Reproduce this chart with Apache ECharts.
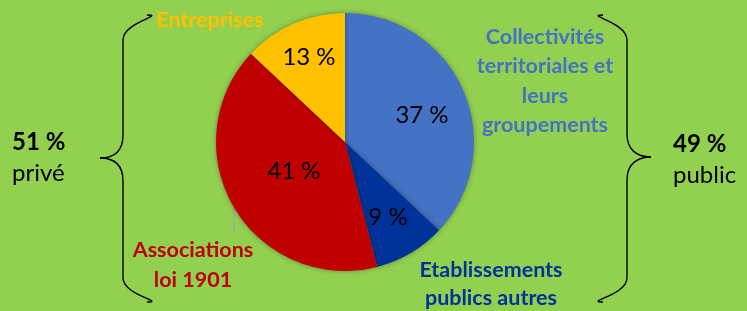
<!DOCTYPE html>
<html>
<head>
<meta charset="utf-8">
<script src="https://cdn.jsdelivr.net/npm/echarts@6/dist/echarts.min.js"></script>
<style>
  html, body { margin: 0; padding: 0; background: #92D050; }
  #main { width: 747px; height: 311px; }
</style>
</head>
<body>
<div id="main"></div>
<script>
// données
const categories = ['Collectivités\nterritoriales et\nleurs\ngroupements', 'Etablissements\npublics autres', 'Associations\nloi 1901', 'Entreprises']
const values = [37, 9, 41, 13]
const colors = ['#4472C4', '#003399', '#C00000', '#FFC000']
const groupLabels = ['51 %', 'privé', '49 %', 'public']

// positions des étiquettes (comme dans l'original)
const pctPos = [[422, 115], [388, 217], [294, 171], [309, 57]]
const namePos = [[545, 81], [491, 284], [193, 265], [210, 20]]
const nameLineHeight = [29.5, 28, 30, 28]

const font = 'Lato, "Open Sans", sans-serif'
const chart = echarts.init(document.getElementById('main'))

// accolade : xe = bout des branches, xm = barre, xt = pointe
function brace(xe, xm, xt, yTop, yTip, yBot) {
  const s = xt > xm ? 1 : -1
  const st = { fill: 'none', stroke: '#000', lineWidth: 1.4 }
  const curve = (x1, y1, cx1, cy1, cx2, cy2, x2, y2) => ({
    type: 'bezierCurve',
    shape: { x1, y1, cpx1: cx1, cpy1: cy1, cpx2: cx2, cpy2: cy2, x2, y2 },
    style: st
  })
  const line = (x1, y1, x2, y2) => ({ type: 'line', shape: { x1, y1, x2, y2 }, style: st })
  return [
    curve(xe, yTop, xe - s * 19, yTop, xm, yTop + 7, xm, yTop + 25),
    line(xm, yTop + 25, xm, yTip - 23),
    curve(xm, yTip - 23, xm, yTip - 8, xt - s * 15, yTip, xt, yTip),
    curve(xt, yTip, xt - s * 15, yTip, xm, yTip + 8, xm, yTip + 23),
    line(xm, yTip + 23, xm, yBot - 24),
    curve(xm, yBot - 24, xm, yBot - 7, xe - s * 19, yBot, xe, yBot)
  ]
}

const seriesData = values.map((v, i) => ({ name: categories[i], value: v, itemStyle: { color: colors[i] } }))

chart.setOption({
  backgroundColor: '#92D050',
  animation: false,
  series: [
    {
      type: 'pie',
      center: [345, 142],
      radius: 129,
      startAngle: 90,
      data: seriesData,
      itemStyle: { shadowBlur: 5, shadowColor: 'rgba(0,0,0,0.35)' },
      label: {
        show: true,
        position: 'inside',
        formatter: '{c} %',
        color: '#000',
        fontFamily: font,
        fontSize: 24
      },
      labelLine: { show: false },
      labelLayout: (p) => ({ x: pctPos[p.dataIndex][0], y: pctPos[p.dataIndex][1], align: 'center', verticalAlign: 'middle' })
    },
    {
      type: 'pie',
      silent: true,
      center: [345, 142],
      radius: 129,
      startAngle: 90,
      data: values.map((v, i) => ({
        name: categories[i],
        value: v,
        itemStyle: { color: 'transparent' },
        label: { color: colors[i], lineHeight: nameLineHeight[i] }
      })),
      label: {
        show: true,
        position: 'outside',
        formatter: '{b}',
        fontFamily: font,
        fontWeight: 'bold',
        fontSize: 21.5,
        align: 'center'
      },
      labelLine: { show: false },
      labelLayout: (p) => ({ x: namePos[p.dataIndex][0], y: namePos[p.dataIndex][1], align: 'center', verticalAlign: 'middle' })
    }
  ],
  graphic: [
    ...brace(147, 123, 100, 15, 158, 302),
    ...brace(603, 627, 651, 15, 157, 302),
    // trait de rappel
    {
      type: 'line',
      shape: { x1: 234, y1: 208, x2: 234, y2: 233 },
      style: { stroke: '#A6A6A6', lineWidth: 1.5 }
    },
    { type: 'text', left: 12, top: 130, style: { text: groupLabels[0], font: 'bold 24px ' + font, fill: '#000' } },
    { type: 'text', left: 12, top: 161, style: { text: groupLabels[1], font: '24px ' + font, fill: '#000' } },
    { type: 'text', left: 673, top: 132, style: { text: groupLabels[2], font: 'bold 24px ' + font, fill: '#000' } },
    { type: 'text', left: 673, top: 163, style: { text: groupLabels[3], font: '24px ' + font, fill: '#000' } }
  ]
})
</script>
</body>
</html>
